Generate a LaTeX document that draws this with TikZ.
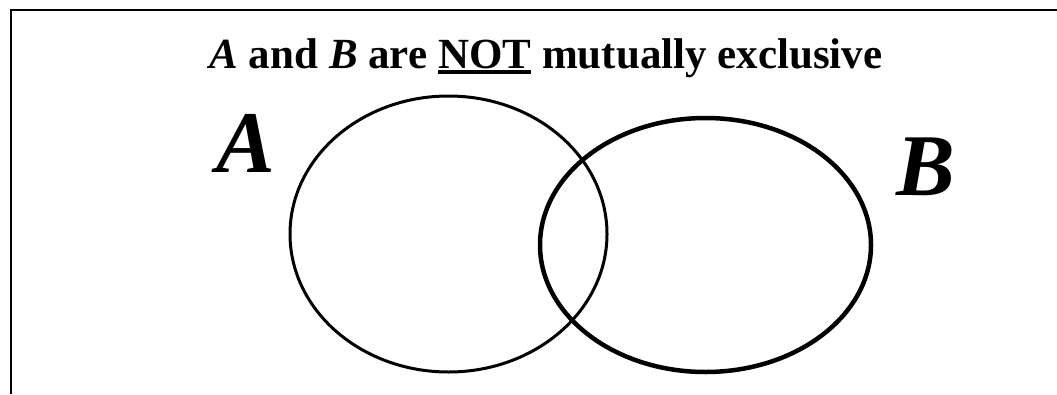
\documentclass[tikz,border=0pt]{standalone}
\usepackage{fontspec}
\setmainfont{Liberation Serif}
\newcommand{\myul}[1]{\leavevmode\setbox0\hbox{#1}\rlap{\rule[-0.13em]{\wd0}{0.075em}}\box0\relax}
\tikzset{
  frameline/.style={line width=2.2pt, line cap=butt},
  setA/.style={draw, line width=3pt},
  setB/.style={draw, line width=4.5pt},
  title/.style={font=\fontsize{43}{50}\selectfont\bfseries, inner sep=0pt, anchor=base},
  biglabel/.style={font=\fontsize{88}{90}\selectfont\bfseries\itshape, inner sep=0pt, anchor=base},
}
\begin{document}
\begin{tikzpicture}[x=1pt,y=1pt]
\useasboundingbox (0,0) rectangle (1057,-394);
\fill[white] (0,0) rectangle (1057,-394);
\coordinate (fr) at (1057,-10);
\coordinate (fc) at (11,-10);
\coordinate (fb) at (11,-394);
\draw[frameline] (fr) -- (fc) -- (fb);
\node[title] (t) at (546,-68) {\textit{A} and \textit{B} are \myul{NOT} mutually exclusive};
\draw[setA] (448.5,-234) ellipse [x radius=158.5, y radius=138];
\draw[setB] (705.5,-245) ellipse [x radius=165.5, y radius=127];
\node[biglabel] (la) at (246,-172) {A};
\node[biglabel] (lb) at (926,-195) {B};
\end{tikzpicture}
\end{document}
